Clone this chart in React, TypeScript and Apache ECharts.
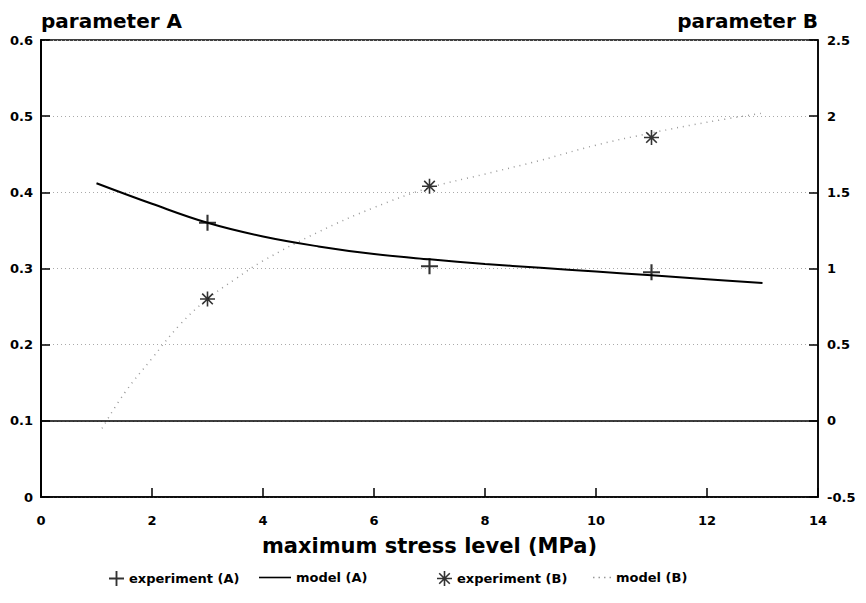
import React, { useEffect, useRef } from "react";
import * as echarts from "echarts";

// ---- data ----
const xTicks = [0, 2, 4, 6, 8, 10, 12, 14];
const expX = [3, 7, 11];
const expA = [0.36, 0.303, 0.295];
const expB = [0.8, 1.54, 1.86];
const modelAX = [1, 2, 3, 4, 5, 6, 7, 8, 9, 10, 11, 12, 13];
const modelA = [0.412, 0.385, 0.36, 0.342, 0.329, 0.319, 0.312, 0.306, 0.301, 0.296, 0.291, 0.286, 0.281];
const modelBX = [1.1, 1.5, 2, 2.5, 3, 3.5, 4, 5, 6, 7, 8, 9, 10, 11, 12, 13];
const modelB = [-0.05, 0.18, 0.41, 0.63, 0.8, 0.93, 1.05, 1.24, 1.4, 1.53, 1.62, 1.71, 1.81, 1.89, 1.96, 2.02];
const zeroB = 0;
const names = ["experiment (A)", "model (A)", "experiment (B)", "model (B)"];

function armsPath(angles: number[], L: number, w: number): string {
  let d = "";
  const c = 8;
  const f = (v: number) => v.toFixed(3);
  for (const a of angles) {
    const r = (a * Math.PI) / 180;
    const dx = Math.cos(r), dy = Math.sin(r);
    const nx = -dy, ny = dx;
    const p1 = [c + L * dx + w * nx, c + L * dy + w * ny];
    const p2 = [c + L * dx - w * nx, c + L * dy - w * ny];
    const p3 = [c - L * dx - w * nx, c - L * dy - w * ny];
    const p4 = [c - L * dx + w * nx, c - L * dy + w * ny];
    d += `M${f(p1[0])},${f(p1[1])}L${f(p2[0])},${f(p2[1])}L${f(p3[0])},${f(p3[1])}L${f(p4[0])},${f(p4[1])}Z`;
  }
  return "path://" + d;
}

const plusPath = armsPath([0, 90], 8, 1);
const starPath = armsPath([0, 45, 90, 135], 8, 0.85);
const solidIcon = "path://M0,0H32V1.6H0Z";
const dotsIcon =
  "path://M0,0h1.5v1.5h-1.5z M5.5,0h1.5v1.5h-1.5z M11,0h1.5v1.5h-1.5z M16.5,0h1.5v1.5h-1.5z";

const FONT = "DejaVu Sans";

export default function App() {
  const ref = useRef<HTMLDivElement>(null);
  useEffect(() => {
    if (!ref.current) return;
    const chart = echarts.init(ref.current, undefined, { renderer: "svg" });
    const pair = (xs: number[], ys: number[]) => xs.map((x, i) => [x, ys[i]]);
    const labelStyle = {
      color: "#000",
      fontFamily: FONT,
      fontWeight: "bold" as const,
      fontSize: 13,
    };
    const legendText = { color: "#000", fontFamily: FONT, fontWeight: "bold", fontSize: 13 };
    const mkLegend = (name: string, icon: string, left: number, w: number, h: number) => ({
      top: 566,
      left,
      itemWidth: w,
      itemHeight: h,
      itemGap: 0,
      textStyle: legendText,
      data: [{ name, icon }],
    });
    chart.setOption({
      animation: false,
      backgroundColor: "#fff",
      grid: {
        left: 41,
        top: 40,
        width: 777,
        height: 457,
        show: true,
        borderColor: "#000",
        borderWidth: 1.5,
        backgroundColor: "transparent",
      },
      legend: [
        mkLegend(names[0], plusPath, 104, 15, 15),
        mkLegend(names[1], solidIcon, 254, 32, 15),
        mkLegend(names[2], starPath, 432, 15, 15),
        mkLegend(names[3], dotsIcon, 588, 18, 15),
      ],
      xAxis: {
        type: "value",
        min: xTicks[0],
        max: xTicks[xTicks.length - 1],
        interval: 2,
        name: "maximum stress level (MPa)",
        nameLocation: "middle",
        nameGap: 38,
        nameTextStyle: { color: "#000", fontFamily: FONT, fontWeight: "bold", fontSize: 21 },
        axisLine: { lineStyle: { color: "#000", width: 1.5 } },
        axisTick: { inside: true, length: 9, lineStyle: { color: "#000", width: 1.5 } },
        axisLabel: { ...labelStyle, margin: 17 },
        splitLine: { show: false },
      },
      yAxis: [
        {
          type: "value",
          min: 0,
          max: 0.6,
          interval: 0.1,
          position: "left",
          name: "parameter A",
          nameLocation: "end",
          nameGap: 9,
          nameTextStyle: {
            color: "#000",
            fontFamily: FONT,
            fontWeight: "bold",
            fontSize: 20,
            align: "left",
            verticalAlign: "bottom",
          },
          axisLine: { show: true, lineStyle: { color: "#000", width: 2 } },
          axisTick: { show: true, inside: true, length: 9, lineStyle: { color: "#000", width: 1.5 } },
          axisLabel: { ...labelStyle, margin: 8 },
          splitLine: { show: true, lineStyle: { color: "#aaa", type: [1, 3], width: 1 } },
        },
        {
          type: "value",
          min: -0.5,
          max: 2.5,
          interval: 0.5,
          position: "right",
          name: "parameter B",
          nameLocation: "end",
          nameGap: 9,
          nameTextStyle: {
            color: "#000",
            fontFamily: FONT,
            fontWeight: "bold",
            fontSize: 20,
            align: "right",
            verticalAlign: "bottom",
          },
          axisLine: { show: true, lineStyle: { color: "#000", width: 1.5 } },
          axisTick: { show: true, inside: true, length: 9, lineStyle: { color: "#000", width: 1.5 } },
          axisLabel: { ...labelStyle, margin: 9 },
          splitLine: { show: false },
        },
      ],
      series: [
        {
          name: names[0],
          type: "scatter",
          yAxisIndex: 0,
          symbol: plusPath,
          symbolSize: [17, 16],
          itemStyle: { color: "#000" },
          data: pair(expX, expA),
          z: 5,
        },
        {
          name: names[1],
          type: "line",
          yAxisIndex: 0,
          smooth: 0.4,
          symbol: "none",
          lineStyle: { color: "#000", width: 2 },
          itemStyle: { color: "#000" },
          data: pair(modelAX, modelA),
          z: 4,
        },
        {
          name: names[2],
          type: "scatter",
          yAxisIndex: 1,
          symbol: starPath,
          symbolSize: [15, 15],
          itemStyle: { color: "#000" },
          data: pair(expX, expB),
          z: 5,
        },
        {
          name: names[3],
          type: "line",
          yAxisIndex: 1,
          smooth: 0.4,
          symbol: "none",
          lineStyle: { color: "#999", width: 1.5, type: [1, 5] },
          itemStyle: { color: "#999" },
          data: pair(modelBX, modelB),
          markLine: {
            silent: true,
            symbol: "none",
            label: { show: false },
            lineStyle: { color: "#000", type: "solid", width: 1.5 },
            data: [{ yAxis: zeroB }],
          },
          z: 3,
        },
      ],
    });
    return () => chart.dispose();
  }, []);
  return (
    <div
      ref={ref}
      style={{ position: "absolute", left: 0, top: 0, width: 866, height: 603, background: "#fff" }}
    />
  );
}
